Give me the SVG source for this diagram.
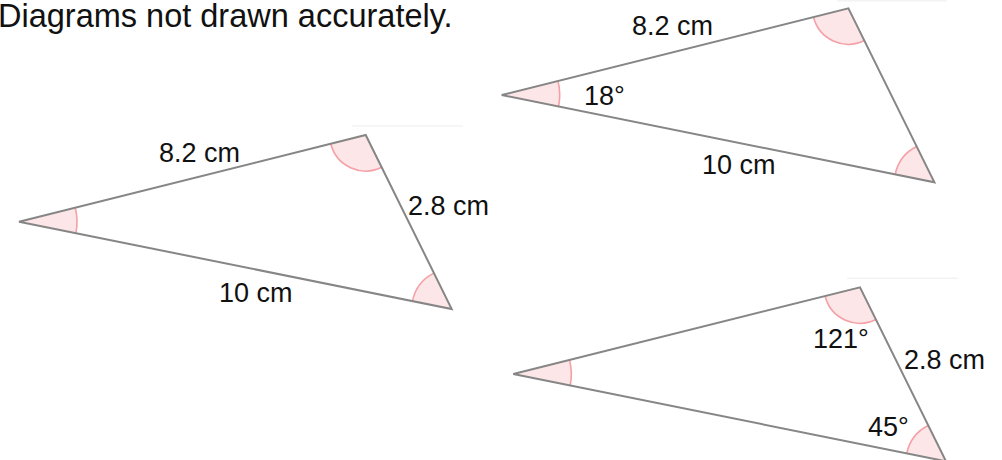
<svg xmlns="http://www.w3.org/2000/svg" xmlns:xlink="http://www.w3.org/1999/xlink" width="1002" height="460" viewBox="0 0 1002 460">
<style>
  .lbl { font-family: "Liberation Sans", Arial, sans-serif; font-size: 27px; fill: #111; }
  .hdr { font-family: "Liberation Sans", Arial, sans-serif; font-size: 32.5px; fill: #111; }
  .sector { fill: #fde6e8; stroke: none; }
  .arc { fill: none; stroke: #f4a0a6; stroke-width: 1.6; }
  .edge { fill: none; stroke: #868686; stroke-width: 2; stroke-linejoin: miter; }
  .faint { stroke: #f3f3f3; stroke-width: 1.5; }
</style>
<defs>
  <g id="tri">
    <path class="sector" d="M19 221.7 L75.26 207.58 A58 58 0 0 1 75.86 233.17 Z"/>
    <path class="sector" d="M365.7 135 L330.78 143.73 A36 36 0 0 0 381.65 167.27 Z"/>
    <path class="sector" d="M451.7 309 L433.98 273.14 A40 40 0 0 0 412.49 301.09 Z"/>
    <path class="arc" d="M75.26 207.58 A58 58 0 0 1 75.86 233.17"/>
    <path class="arc" d="M330.78 143.73 A36 36 0 0 0 381.65 167.27"/>
    <path class="arc" d="M433.98 273.14 A40 40 0 0 0 412.49 301.09"/>
    <path class="edge" d="M19 221.7 L365.7 135 L451.7 309 Z"/>
  </g>
</defs>
<rect width="1002" height="460" fill="#ffffff"/>
<g id="header">
  <text class="hdr" x="-2" y="27">Diagrams not drawn accurately.</text>
</g>
<g id="connectors">
  <line class="faint" x1="352" y1="126" x2="463" y2="126"/>
  <line class="faint" x1="837" y1="0.8" x2="947" y2="0.8"/>
  <line class="faint" x1="847" y1="278.3" x2="958" y2="278.3"/>
</g>
<g id="triangle-1">
  <use xlink:href="#tri" href="#tri"/>
  <text class="lbl" x="159" y="162">8.2 cm</text>
  <text class="lbl" x="408" y="215">2.8 cm</text>
  <text class="lbl" x="219" y="302">10 cm</text>
</g>
<g id="triangle-2">
  <use xlink:href="#tri" href="#tri" transform="translate(482.7,-126.7)"/>
  <text class="lbl" x="632" y="35">8.2 cm</text>
  <text class="lbl" x="584" y="105">18°</text>
  <text class="lbl" x="702" y="174">10 cm</text>
</g>
<g id="triangle-3">
  <use xlink:href="#tri" href="#tri" transform="translate(494.3,152.3)"/>
  <text class="lbl" x="813" y="348">121°</text>
  <text class="lbl" x="904" y="369">2.8 cm</text>
  <text class="lbl" x="868" y="436">45°</text>
</g>
</svg>
